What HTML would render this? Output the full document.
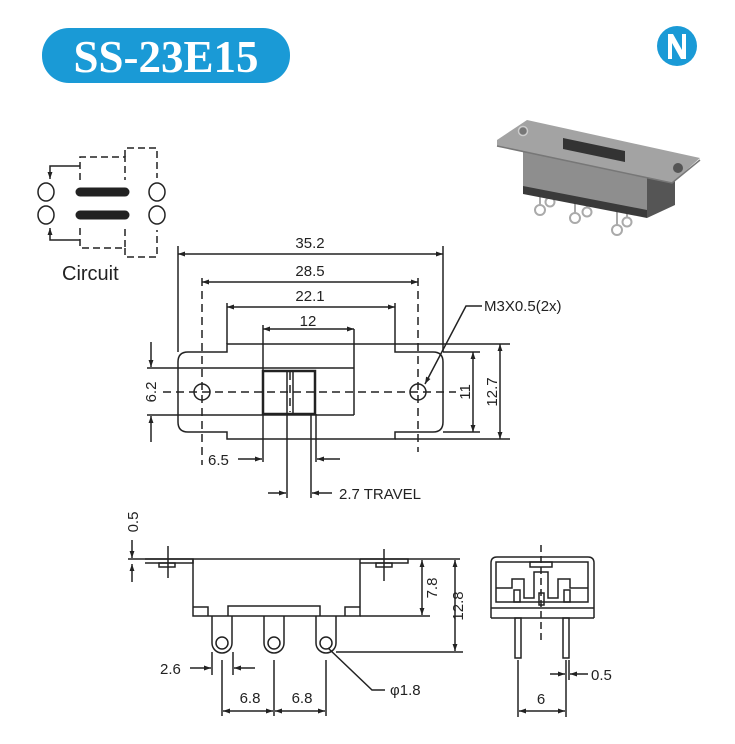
<!DOCTYPE html>
<html><head><meta charset="utf-8"><style>
html,body{margin:0;padding:0;background:#fff;}
svg{display:block;}
text{font-family:"Liberation Sans",Arial,sans-serif;fill:#222;}
</style></head><body>
<svg width="735" height="744" viewBox="0 0 735 744" xmlns="http://www.w3.org/2000/svg">
<defs>
<marker id="a" viewBox="0 0 10 10" refX="10" refY="5" markerWidth="9" markerHeight="7" orient="auto-start-reverse" markerUnits="userSpaceOnUse"><path d="M0,1.5 L10,5 L0,8.5 z" fill="#222"/></marker>
</defs>
<!-- title -->
<rect x="42" y="28" width="248" height="55" rx="27" fill="#1a9ad6"/>
<text x="166" y="72" text-anchor="middle" style="font-family:'Liberation Serif',serif;font-weight:bold;font-size:45px;fill:#fff">SS-23E15</text>
<!-- logo -->
<circle cx="677" cy="46" r="20" fill="#1a9ad6"/>
<path d="M668,34 h5 l9,16 v-16 h4 v25 h-5 l-9,-16 v16 h-4z" fill="#fff"/>
<!-- photo -->
<g>
<g stroke="#aaa" stroke-width="2" fill="#fff">
<path d="M540,190 V205 M550,192 V197 M575,198 V213 M587,200 V207 M617,205 V225 M627,207 V217" fill="none"/>
<circle cx="540" cy="210" r="5"/><circle cx="550" cy="202" r="4.5"/>
<circle cx="575" cy="218" r="5"/><circle cx="587" cy="212" r="4.5"/>
<circle cx="617" cy="230" r="5"/><circle cx="627" cy="222" r="4.5"/>
</g>
<polygon points="523,146 647,170 647,217 523,192" fill="#8e8e8e"/>
<polygon points="523,186 647,210 647,218 523,194" fill="#3a3a3a"/>
<polygon points="647,170 675,178 675,205 647,218" fill="#555"/>
<polygon points="497,140 527,120 700,158 672,183 497,146" fill="#a3a3a3"/>
<polyline points="497,146 672,183 700,160" fill="none" stroke="#777" stroke-width="1.5"/>
<polygon points="563,138 625,151 625,162 563,149" fill="#333"/>
<circle cx="523" cy="131" r="4.5" fill="#777" stroke="#ccc" stroke-width="1.5"/>
<circle cx="678" cy="168" r="5" fill="#555"/>
</g>
<!-- circuit -->
<g stroke="#222" stroke-width="1.5" fill="none">
<ellipse cx="46" cy="192" rx="8" ry="9"/><ellipse cx="46" cy="215" rx="8" ry="9"/>
<ellipse cx="157" cy="192" rx="8" ry="9"/><ellipse cx="157" cy="215" rx="8" ry="9"/>
<g stroke-dasharray="7,4">
<path d="M80,180 V157 H125 V180"/><path d="M125,157 V148 H157 V178"/>
<path d="M80,228 V248 H125 V228"/><path d="M125,248 V257 H157 V230"/>
</g>
<path d="M80,166 H50 V179" marker-end="url(#a)"/>
<path d="M80,240 H50 V228" marker-end="url(#a)"/>
</g>
<g stroke="#222" stroke-width="9" stroke-linecap="round">
<line x1="80" y1="192" x2="125" y2="192"/><line x1="80" y1="215" x2="125" y2="215"/>
</g>
<text x="62" y="280" font-size="20">Circuit</text>

<!-- TOP VIEW -->
<g stroke="#222" stroke-width="1.5" fill="none">
<path d="M227,352 V344 H395 V352 H433 Q443,352 443,362 V422 Q443,432 433,432 H395 V439 H227 V432 H188 Q178,432 178,422 V362 Q178,352 188,352 Z"/>
<line x1="147" y1="368" x2="354" y2="368"/><line x1="147" y1="415" x2="354" y2="415"/>
<line x1="263" y1="344" x2="263" y2="462"/><line x1="354" y1="329" x2="354" y2="415"/>
<rect x="263" y="371" width="52" height="43" stroke-width="2.5"/>
<line x1="287" y1="371" x2="287" y2="498"/><line x1="293" y1="371" x2="293" y2="414"/>
<line x1="311" y1="414" x2="311" y2="498"/><line x1="316" y1="414" x2="316" y2="462"/>
<circle cx="202" cy="392" r="8"/><circle cx="418" cy="392" r="8"/>
<g stroke-dasharray="8,5">
<line x1="163" y1="392" x2="456" y2="392"/>
<line x1="202" y1="278" x2="202" y2="465"/><line x1="418" y1="278" x2="418" y2="452"/>
<line x1="290" y1="372" x2="290" y2="412"/>
</g>
<line x1="178" y1="246" x2="178" y2="352"/><line x1="443" y1="246" x2="443" y2="352"/>
<line x1="227" y1="303" x2="227" y2="344"/><line x1="395" y1="303" x2="395" y2="344"/>
<line x1="263" y1="325" x2="263" y2="344"/>
<line x1="443" y1="352" x2="480" y2="352"/><line x1="443" y1="432" x2="480" y2="432"/>
<line x1="395" y1="344" x2="510" y2="344"/><line x1="395" y1="439" x2="510" y2="439"/>
<line x1="178" y1="254" x2="443" y2="254" marker-start="url(#a)" marker-end="url(#a)"/>
<line x1="202" y1="282" x2="418" y2="282" marker-start="url(#a)" marker-end="url(#a)"/>
<line x1="227" y1="307" x2="395" y2="307" marker-start="url(#a)" marker-end="url(#a)"/>
<line x1="263" y1="329" x2="354" y2="329" marker-start="url(#a)" marker-end="url(#a)"/>
<line x1="473" y1="352" x2="473" y2="432" marker-start="url(#a)" marker-end="url(#a)"/>
<line x1="500" y1="344" x2="500" y2="439" marker-start="url(#a)" marker-end="url(#a)"/>
<line x1="151" y1="342" x2="151" y2="367" marker-end="url(#a)"/>
<line x1="151" y1="442" x2="151" y2="416" marker-end="url(#a)"/>
<line x1="238" y1="459" x2="262" y2="459" marker-end="url(#a)"/>
<line x1="340" y1="459" x2="317" y2="459" marker-end="url(#a)"/>
<line x1="268" y1="493" x2="286" y2="493" marker-end="url(#a)"/>
<line x1="332" y1="493" x2="312" y2="493" marker-end="url(#a)"/>
<path d="M482,306 H466 L425,384" marker-end="url(#a)"/>
</g>
<g font-size="15">
<text x="310" y="248" text-anchor="middle">35.2</text>
<text x="310" y="276" text-anchor="middle">28.5</text>
<text x="310" y="301" text-anchor="middle">22.1</text>
<text x="308" y="326" text-anchor="middle">12</text>
<text x="484" y="311">M3X0.5(2x)</text>
<text x="208" y="465">6.5</text>
<text x="339" y="499">2.7  TRAVEL</text>
<text transform="translate(156,392) rotate(-90)" text-anchor="middle">6.2</text>
<text transform="translate(470,392) rotate(-90)" text-anchor="middle">11</text>
<text transform="translate(497,392) rotate(-90)" text-anchor="middle">12.7</text>
</g>

<!-- SIDE VIEW -->
<g stroke="#222" stroke-width="1.5" fill="none">
<line x1="128" y1="559" x2="460" y2="559"/>
<path d="M145,559 H193 V563 H145"/>
<path d="M360,559 H408 V563 H360"/>
<rect x="159" y="563" width="16" height="4"/><rect x="376" y="563" width="16" height="4"/>
<line x1="168" y1="546" x2="168" y2="578"/>
<line x1="384" y1="549" x2="384" y2="581"/>
<path d="M193,559 V616 H360 V559"/>
<path d="M193,607 H208 V616"/><path d="M360,607 H345 V616"/>
<path d="M228,616 V606 H320 V616"/>
<path d="M212,616 V643 A10,10 0 0 0 232,643 V616"/>
<path d="M264,616 V643 A10,10 0 0 0 284,643 V616"/>
<path d="M316,616 V643 A10,10 0 0 0 336,643 V616"/>
<circle cx="222" cy="643" r="6"/><circle cx="274" cy="643" r="6"/><circle cx="326" cy="643" r="6"/>
<line x1="360" y1="616" x2="430" y2="616"/>
<line x1="336" y1="652" x2="463" y2="652"/>
<line x1="422" y1="560" x2="422" y2="615" marker-start="url(#a)" marker-end="url(#a)"/>
<line x1="455" y1="560" x2="455" y2="651" marker-start="url(#a)" marker-end="url(#a)"/>
<line x1="132" y1="540" x2="132" y2="558" marker-end="url(#a)"/>
<line x1="132" y1="582" x2="132" y2="564" marker-end="url(#a)"/>
<line x1="212" y1="652" x2="212" y2="675"/><line x1="233" y1="652" x2="233" y2="675"/>
<line x1="190" y1="668" x2="211" y2="668" marker-end="url(#a)"/>
<line x1="255" y1="668" x2="234" y2="668" marker-end="url(#a)"/>
<line x1="222" y1="660" x2="222" y2="716"/><line x1="274" y1="660" x2="274" y2="716"/><line x1="326" y1="660" x2="326" y2="716"/>
<line x1="223" y1="711" x2="273" y2="711" marker-start="url(#a)" marker-end="url(#a)"/>
<line x1="275" y1="711" x2="325" y2="711" marker-start="url(#a)" marker-end="url(#a)"/>
<path d="M328,648 L372,690 H385"/>
</g>
<g font-size="15">
<text transform="translate(437,588) rotate(-90)" text-anchor="middle">7.8</text>
<text transform="translate(463,606) rotate(-90)" text-anchor="middle">12.8</text>
<text transform="translate(138,522) rotate(-90)" text-anchor="middle">0.5</text>
<text x="160" y="674">2.6</text>
<text x="250" y="703" text-anchor="middle">6.8</text>
<text x="302" y="703" text-anchor="middle">6.8</text>
<text x="390" y="695">φ1.8</text>
</g>

<!-- END VIEW -->
<g stroke="#222" stroke-width="1.5" fill="none">
<path d="M491,618 V563 Q491,557 497,557 H588 Q594,557 594,563 V618"/>
<line x1="491" y1="608" x2="594" y2="608"/><line x1="491" y1="618" x2="594" y2="618"/>
<rect x="496" y="562" width="92" height="40"/>
<rect x="530" y="562" width="22" height="5"/>
<path d="M496,588 H512 V579 H524 V598 H534 V572 H548 V598 H558 V579 H570 V588 H588"/>
<rect x="514" y="590" width="6" height="12"/><rect x="564" y="590" width="6" height="12"/>
<rect x="539" y="593" width="5" height="12"/>
<rect x="515" y="618" width="6" height="40"/><rect x="563" y="618" width="6" height="40"/>
<line x1="541" y1="545" x2="541" y2="640" stroke-dasharray="7,4"/>
<line x1="518" y1="660" x2="518" y2="717"/><line x1="566" y1="660" x2="566" y2="717"/>
<line x1="569" y1="660" x2="569" y2="680"/>
<line x1="519" y1="711" x2="565" y2="711" marker-start="url(#a)" marker-end="url(#a)"/>
<line x1="550" y1="674" x2="565" y2="674" marker-end="url(#a)"/>
<line x1="588" y1="674" x2="570" y2="674" marker-end="url(#a)"/>
</g>
<g font-size="15">
<text x="591" y="680">0.5</text>
<text x="541" y="704" text-anchor="middle">6</text>
</g>
</svg>
</body></html>
